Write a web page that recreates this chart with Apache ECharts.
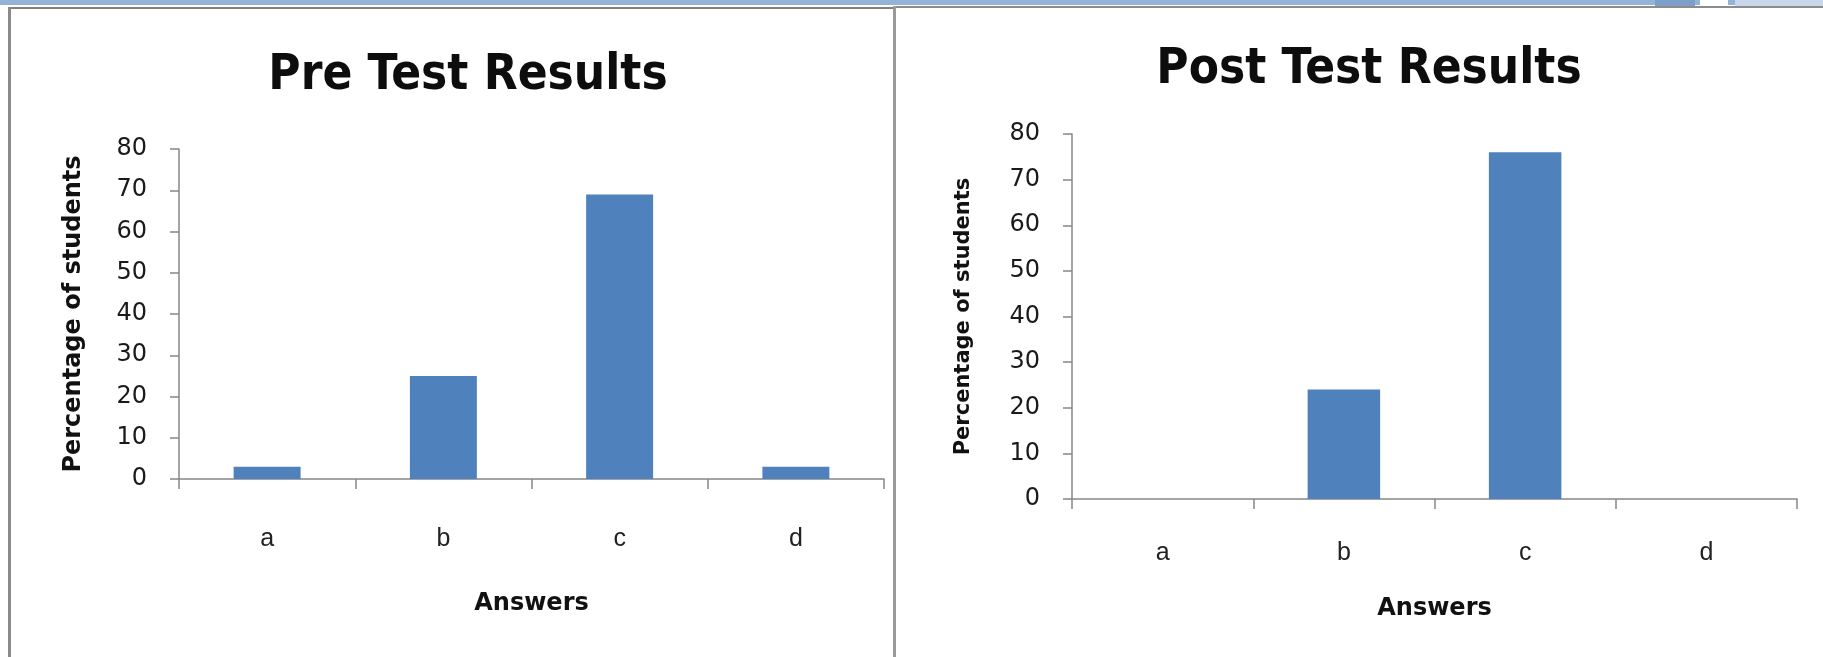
<!DOCTYPE html>
<html>
<head>
<meta charset="utf-8">
<script src="https://cdn.jsdelivr.net/npm/echarts@6/dist/echarts.min.js"></script>
<style>
  html, body { margin: 0; padding: 0; background: #fff; }
  #chart { width: 1823px; height: 657px; }
</style>
</head>
<body>
<div id="chart"></div>
<script>
// answers on the x axis
var categories = ['a', 'b', 'c', 'd'];
// percentage of students per answer
var preTestValues = [3, 25, 69, 3];
var postTestValues = [0, 24, 76, 0];

var titleFont = '"DejaVu Sans Condensed", "DejaVu Sans", sans-serif';
var nameFont = '"DejaVu Sans", sans-serif';
var barColor = '#4f81bd';
var axisGray = '#868686';

function valueAxis(gridIndex, fontSize, nameSize, nameGap) {
	return {
		type: 'value',
		gridIndex: gridIndex,
		min: 0,
		max: 80,
		interval: 10,
		name: 'Percentage of students',
		nameLocation: 'middle',
		nameRotate: 90,
		nameGap: nameGap,
		nameTextStyle: { fontFamily: nameFont, fontWeight: 'bold', fontSize: nameSize, color: '#111' },
		axisLine: { show: true, lineStyle: { color: axisGray, width: 1.5 } },
		axisTick: { show: true, length: 9, lineStyle: { color: axisGray, width: 1.5 } },
		axisLabel: { fontFamily: '"DejaVu Sans", sans-serif', fontSize: fontSize, color: '#1a1a1a', margin: 32 },
		splitLine: { show: false }
	};
}

function categoryAxis(gridIndex, labelMargin, nameGap) {
	return {
		type: 'category',
		gridIndex: gridIndex,
		data: categories,
		name: 'Answers',
		nameLocation: 'middle',
		nameGap: nameGap,
		nameTextStyle: { fontFamily: nameFont, fontWeight: 'bold', fontSize: 24, color: '#111' },
		axisLine: { show: true, lineStyle: { color: axisGray, width: 1.5 } },
		axisTick: { show: true, alignWithLabel: false, length: 10, lineStyle: { color: axisGray, width: 1.5 } },
		axisLabel: { fontFamily: '"Liberation Sans", sans-serif', fontSize: 25, color: '#222', margin: labelMargin }
	};
}

var chart = echarts.init(document.getElementById('chart'), null, { renderer: 'canvas' });

var option = {
	backgroundColor: '#ffffff',
	animation: false,
	title: [
		{
			text: 'Pre Test Results',
			left: 463, top: 47, textAlign: 'center',
			textStyle: { fontFamily: titleFont, fontWeight: 'bold', fontSize: 49, color: '#0d0d0d' }
		},
		{
			text: 'Post Test Results',
			left: 1364, top: 41, textAlign: 'center',
			textStyle: { fontFamily: titleFont, fontWeight: 'bold', fontSize: 49, color: '#0d0d0d' }
		}
	],
	grid: [
		{ left: 179, top: 149, width: 705, height: 330 },
		{ left: 1072, top: 134, width: 725, height: 365 }
	],
	xAxis: [categoryAxis(0, 48, 113), categoryAxis(1, 42, 98)],
	yAxis: [valueAxis(0, 24, 24, 93), valueAxis(1, 24, 21, 98)],
	series: [
		{
			type: 'bar', xAxisIndex: 0, yAxisIndex: 0,
			data: preTestValues, barWidth: '38%',
			itemStyle: { color: barColor }
		},
		{
			type: 'bar', xAxisIndex: 1, yAxisIndex: 1,
			data: postTestValues, barWidth: '40%',
			itemStyle: { color: barColor }
		}
	],
	// slide frame round the two charts
	graphic: [
		{ type: 'rect', shape: { x: 0, y: 0, width: 1823, height: 5 }, style: { fill: '#95b3d7' }, silent: true },
		{ type: 'rect', shape: { x: 1655, y: 0, width: 40, height: 6 }, style: { fill: '#7f9fcb' }, silent: true },
		{ type: 'rect', shape: { x: 1700, y: 0, width: 28, height: 6 }, style: { fill: '#ffffff' }, silent: true },
		{ type: 'rect', shape: { x: 1735, y: 0, width: 88, height: 6 }, style: { fill: '#c9d7ea' }, silent: true },
		{ type: 'rect', shape: { x: 8, y: 7, width: 885, height: 2 }, style: { fill: '#808080' }, silent: true },
		{ type: 'rect', shape: { x: 8, y: 7, width: 3, height: 650 }, style: { fill: '#8a8a8a' }, silent: true },
		{ type: 'rect', shape: { x: 893, y: 6, width: 930, height: 2 }, style: { fill: '#8c8c8c' }, silent: true },
		{ type: 'rect', shape: { x: 893, y: 6, width: 3, height: 651 }, style: { fill: '#9a9a9a' }, silent: true }
	]
};

chart.setOption(option);
</script>
</body>
</html>
